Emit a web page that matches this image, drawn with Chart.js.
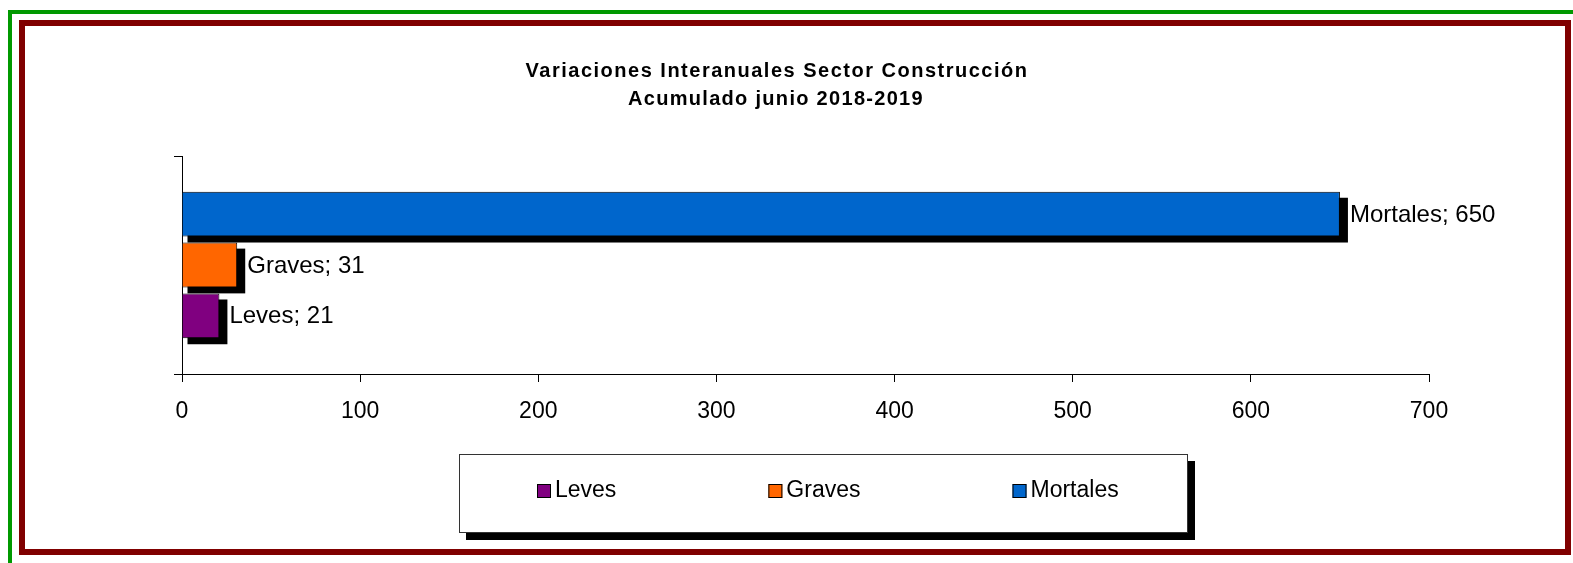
<!DOCTYPE html>
<html>
<head>
<meta charset="utf-8">
<script src="https://cdn.jsdelivr.net/npm/chart.js@4"></script>
<style>
  html, body { margin: 0; padding: 0; background: #fff; overflow: hidden; }
  #wrap { position: relative; width: 1573px; height: 563px; overflow: hidden; background: #fff; }
  #green { position: absolute; left: 8px; top: 10px; width: 2000px; height: 1000px; border: 4px solid #009900; box-sizing: border-box; }
  #red { position: absolute; left: 19px; top: 20px; width: 1552px; height: 535px; border: 6px solid #800000; box-sizing: border-box; }
  #c { position: absolute; left: 0; top: 0; }
</style>
</head>
<body>
<div id="wrap">
  <div id="green"></div>
  <div id="red"></div>
  <canvas id="c" width="1573" height="563"></canvas>
</div>
<script>
// ---- data ----
const titleLines = ['Variaciones Interanuales Sector Construcción', 'Acumulado junio 2018-2019'];
const categories = ['Acumulado junio 2018-2019'];
const seriesNames = ['Leves', 'Graves', 'Mortales'];
const seriesValues = [21, 31, 650];
const seriesColors = ['#800080', '#FF6600', '#0066CC'];
const xTicks = [0, 100, 200, 300, 400, 500, 600, 700];

const FONT = "'Liberation Sans', Arial, sans-serif";

// datasets top-to-bottom: Mortales, Graves, Leves
const order = [2, 1, 0];
const datasets = order.map(i => ({
  label: seriesNames[i],
  data: [seriesValues[i]],
  backgroundColor: seriesColors[i],
  borderColor: '#000000',
  borderWidth: 1,
  barPercentage: 0.88,
  categoryPercentage: 0.70
}));

const shadowPlugin = {
  id: 'shadow',
  beforeDatasetsDraw(chart) {
    const ctx = chart.ctx;
    ctx.save();
    ctx.fillStyle = '#000';
    chart.data.datasets.forEach((ds, di) => {
      chart.getDatasetMeta(di).data.forEach(bar => {
        const p = bar.getProps(['x', 'y', 'base', 'height'], true);
        ctx.fillRect(p.base + 5, p.y - p.height / 2 + 6, p.x - p.base + 3, p.height);
      });
    });
    ctx.restore();
  },
  afterDatasetsDraw(chart) {
    const ctx = chart.ctx;
    ctx.save();
    ctx.fillStyle = '#000';
    ctx.font = '24px ' + FONT;
    ctx.textAlign = 'left';
    ctx.textBaseline = 'middle';
    chart.data.datasets.forEach((ds, di) => {
      chart.getDatasetMeta(di).data.forEach((bar, j) => {
        const p = bar.getProps(['x', 'y'], true);
        ctx.fillText(ds.label + '; ' + ds.data[j], p.x + 10, p.y + 1);
      });
    });
    ctx.restore();
  },
  afterDraw(chart) {
    const ctx = chart.ctx;
    ctx.save();
    // title
    ctx.fillStyle = '#000';
    ctx.font = 'bold 20px ' + FONT;
    ctx.textAlign = 'center';
    ctx.textBaseline = 'middle';
    ctx.letterSpacing = '1.5px';
    ctx.fillText(titleLines[0], 777, 71);
    ctx.letterSpacing = '1.3px';
    ctx.fillText(titleLines[1], 776, 99);
    ctx.letterSpacing = '0px';
    // legend box with shadow
    const bx = 459, by = 454, bw = 729, bh = 79;
    ctx.fillStyle = '#000';
    ctx.fillRect(bx + 7, by + 7, bw, bh);
    ctx.fillStyle = '#fff';
    ctx.fillRect(bx, by, bw, bh);
    ctx.strokeStyle = '#333';
    ctx.lineWidth = 1;
    ctx.strokeRect(bx + 0.5, by + 0.5, bw - 1, bh - 1);
    // legend items (Leves, Graves, Mortales)
    ctx.font = '23px ' + FONT;
    ctx.textAlign = 'left';
    ctx.textBaseline = 'middle';
    let x = 537;
    const cy = 491;
    seriesNames.forEach((name, i) => {
      ctx.fillStyle = seriesColors[i];
      ctx.fillRect(x, cy - 7, 14, 14);
      ctx.strokeStyle = '#000';
      ctx.strokeRect(x + 0.5, cy - 6.5, 13, 13);
      ctx.fillStyle = '#000';
      ctx.fillText(name, x + 18, cy);
      x += 18 + ctx.measureText(name).width + 152;
    });
    ctx.restore();
  }
};

new Chart(document.getElementById('c'), {
  type: 'bar',
  data: { labels: categories, datasets: datasets },
  options: {
    indexAxis: 'y',
    responsive: false,
    animation: false,
    layout: { padding: { left: 174, right: 144, top: 156, bottom: 139 } },
    plugins: {
      legend: { display: false },
      title: { display: false },
      tooltip: { enabled: false }
    },
    scales: {
      x: {
        min: 0, max: 700,
        afterBuildTicks(scale) { scale.ticks = xTicks.map(v => ({ value: v })); },
        afterFit(scale) { scale.height = 50; },
        grid: { drawOnChartArea: false, tickLength: 8, color: '#000', lineWidth: 1 },
        border: { color: '#000', width: 1 },
        ticks: { font: { family: FONT, size: 23 }, color: '#000', padding: 16, maxRotation: 0 }
      },
      y: {
        afterFit(scale) { scale.width = 8; },
        grid: { drawOnChartArea: false, tickLength: 8, color: '#000', lineWidth: 1 },
        border: { color: '#000', width: 1 },
        ticks: { display: false }
      }
    }
  },
  plugins: [shadowPlugin]
});
</script>
</body>
</html>
